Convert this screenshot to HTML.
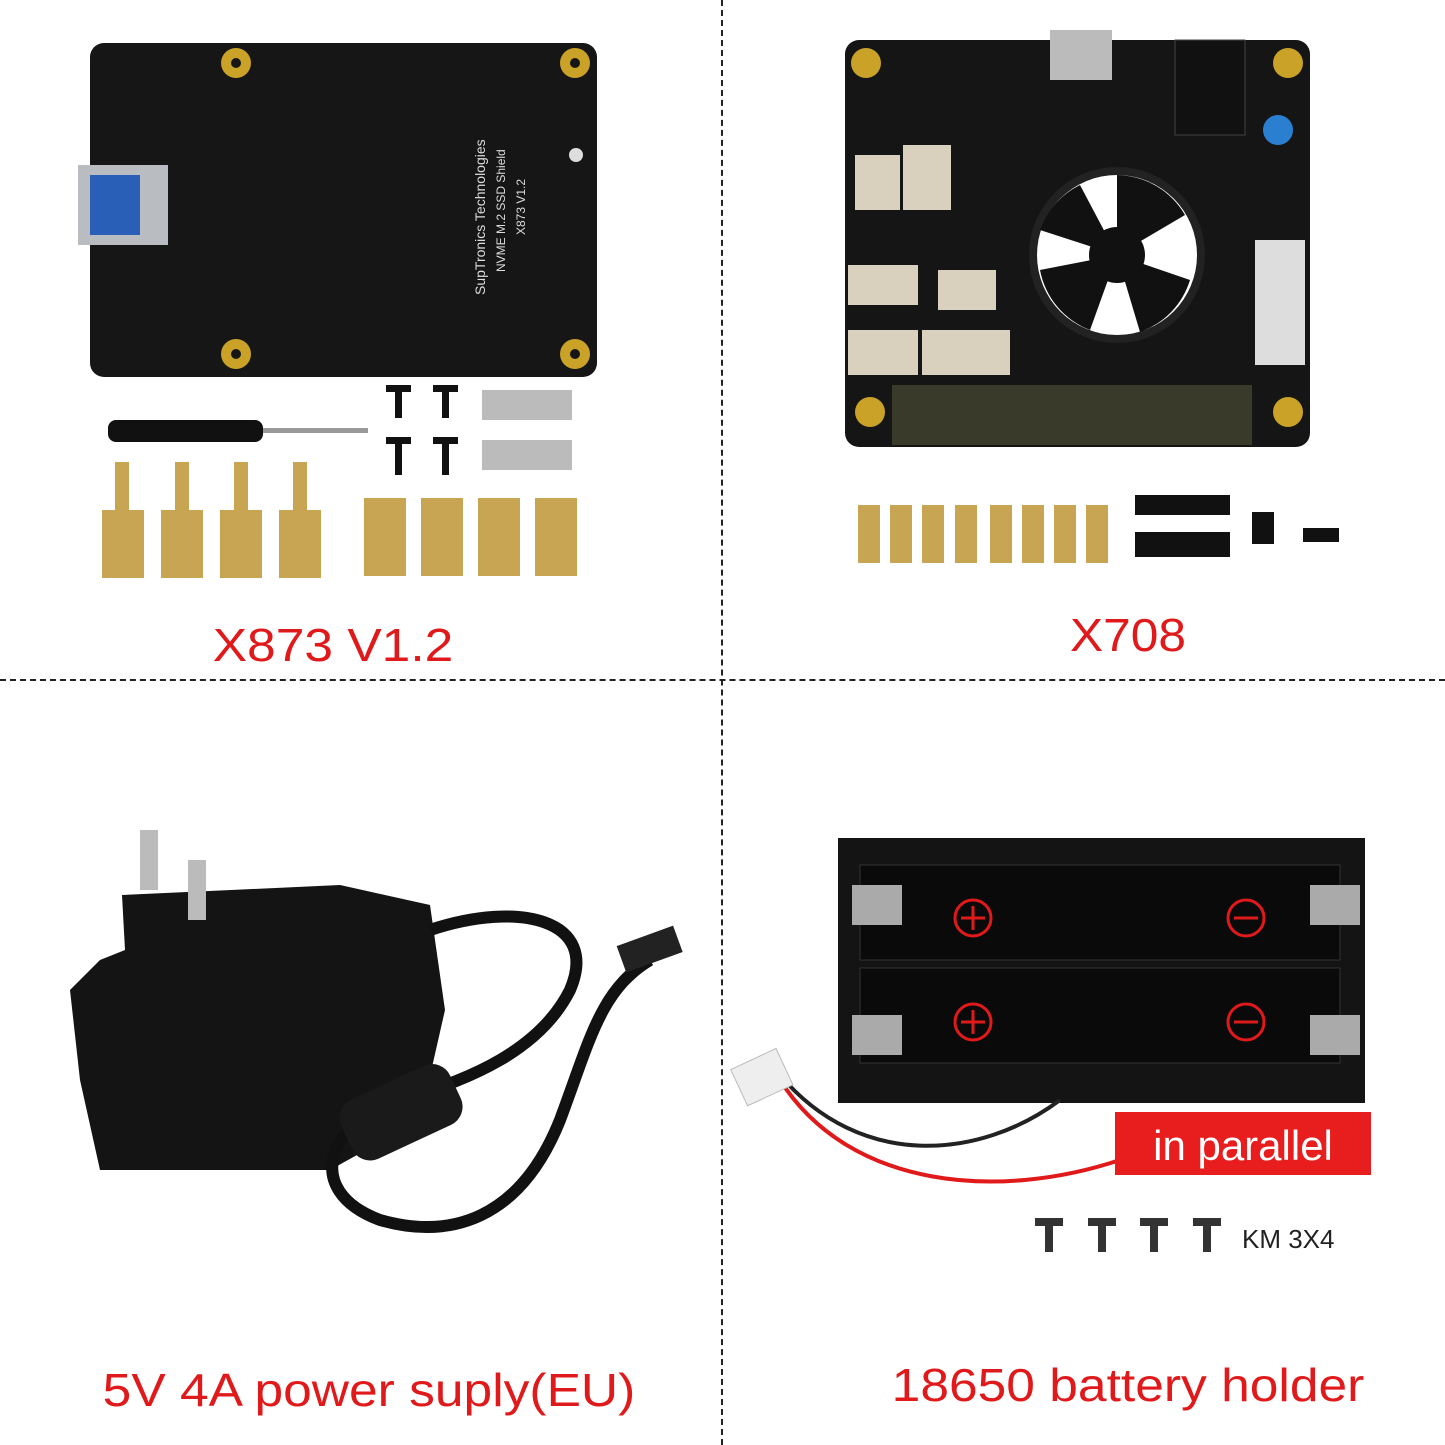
<!DOCTYPE html>
<html><head><meta charset="utf-8"><style>
body{margin:0;width:1445px;height:1445px;background:#fff;position:relative;overflow:hidden;font-family:"Liberation Sans",sans-serif}
.a{position:absolute}
.lbl{position:absolute;color:#e0191b;font-size:46px;text-align:center;white-space:nowrap;transform:scaleX(1.12)}
</style></head><body>
<div class="a" style="left:721px;top:0;height:1445px;border-left:2px dashed #222"></div>
<div class="a" style="left:0;top:679px;width:1445px;border-top:2px dashed #222"></div>

<svg class="a" style="left:0;top:0" width="1445" height="1445">
<rect x="90" y="43" width="507" height="334" rx="14" fill="#161616"/>
<rect x="78" y="165" width="90" height="80" fill="#b9bcc0"/>
<rect x="90" y="175" width="50" height="60" fill="#2a5fb8"/>
<g fill="#c9a227"><circle cx="236" cy="63" r="15"/><circle cx="575" cy="63" r="15"/><circle cx="236" cy="354" r="15"/><circle cx="575" cy="354" r="15"/></g>
<g fill="#161616"><circle cx="236" cy="63" r="5"/><circle cx="575" cy="63" r="5"/><circle cx="236" cy="354" r="5"/><circle cx="575" cy="354" r="5"/></g>
<circle cx="576" cy="155" r="7" fill="#ddd"/>
<text x="0" y="0" transform="translate(485,295) rotate(-90)" fill="#ddd" font-size="14">SupTronics Technologies</text>
<text x="0" y="0" transform="translate(505,272) rotate(-90)" fill="#ddd" font-size="12">NVME M.2 SSD Shield</text>
<text x="0" y="0" transform="translate(525,235) rotate(-90)" fill="#ddd" font-size="12">X873 V1.2</text>
<rect x="108" y="420" width="155" height="22" rx="8" fill="#111"/>
<rect x="263" y="428" width="105" height="5" fill="#999"/>
<g fill="#111"><rect x="386" y="385" width="25" height="7"/><rect x="395" y="390" width="7" height="28"/><rect x="433" y="385" width="25" height="7"/><rect x="442" y="390" width="7" height="28"/><rect x="386" y="437" width="25" height="7"/><rect x="395" y="442" width="7" height="33"/><rect x="433" y="437" width="25" height="7"/><rect x="442" y="442" width="7" height="33"/></g>
<rect x="482" y="390" width="90" height="30" fill="#bbb"/><rect x="482" y="440" width="90" height="30" fill="#bbb"/>
<g fill="#c8a552"><rect x="102" y="510" width="42" height="68"/><rect x="161" y="510" width="42" height="68"/><rect x="220" y="510" width="42" height="68"/><rect x="279" y="510" width="42" height="68"/>
<rect x="115" y="462" width="14" height="50"/><rect x="175" y="462" width="14" height="50"/><rect x="234" y="462" width="14" height="50"/><rect x="293" y="462" width="14" height="50"/>
<rect x="364" y="498" width="42" height="78"/><rect x="421" y="498" width="42" height="78"/><rect x="478" y="498" width="42" height="78"/><rect x="535" y="498" width="42" height="78"/></g>
<rect x="845" y="40" width="465" height="407" rx="14" fill="#151515"/>
<g fill="#c9a227"><circle cx="866" cy="63" r="15"/><circle cx="1288" cy="63" r="15"/><circle cx="870" cy="412" r="15"/><circle cx="1288" cy="412" r="15"/></g>
<rect x="892" y="385" width="360" height="60" fill="#3a3a2a"/>
<circle cx="1117" cy="255" r="88" fill="#222"/><circle cx="1117" cy="255" r="80" fill="#fff"/>
<g fill="#111"><path d="M1117 255 L1117 175 A80 80 0 0 1 1185 215Z"/><path d="M1117 255 L1190 280 A80 80 0 0 1 1140 332Z"/><path d="M1117 255 L1090 330 A80 80 0 0 1 1040 270Z"/><path d="M1117 255 L1040 230 A80 80 0 0 1 1080 185Z"/></g>
<circle cx="1117" cy="255" r="28" fill="#111"/>
<rect x="1050" y="30" width="62" height="50" fill="#bbb"/>
<rect x="1175" y="40" width="70" height="95" fill="#111" stroke="#444"/>
<circle cx="1278" cy="130" r="15" fill="#2b7fd0"/>
<rect x="1255" y="240" width="50" height="125" fill="#ddd"/>
<g fill="#d9d0bd"><rect x="855" y="155" width="45" height="55"/><rect x="903" y="145" width="48" height="65"/><rect x="848" y="265" width="70" height="40"/><rect x="848" y="330" width="70" height="45"/><rect x="938" y="270" width="58" height="40"/><rect x="922" y="330" width="88" height="45"/></g>
<g fill="#c8a552"><rect x="858" y="505" width="22" height="58"/><rect x="890" y="505" width="22" height="58"/><rect x="922" y="505" width="22" height="58"/><rect x="955" y="505" width="22" height="58"/><rect x="990" y="505" width="22" height="58"/><rect x="1022" y="505" width="22" height="58"/><rect x="1054" y="505" width="22" height="58"/><rect x="1086" y="505" width="22" height="58"/></g>
<g fill="#111"><rect x="1135" y="495" width="95" height="20"/><rect x="1135" y="532" width="95" height="25"/><rect x="1252" y="512" width="22" height="32"/><rect x="1303" y="528" width="36" height="14"/></g>
<path d="M122 895 L340 885 L430 905 L445 1010 L420 1120 L330 1170 L100 1170 L80 1080 L70 990 L100 960 L125 950Z" fill="#141414"/>
<rect x="140" y="830" width="18" height="60" fill="#bbb"/><rect x="188" y="860" width="18" height="60" fill="#bbb"/>
<path d="M430 930 C520 900 600 920 570 990 C540 1050 470 1080 400 1100 C330 1120 300 1190 380 1220 C450 1240 520 1220 560 1120 C590 1040 600 990 650 960" fill="none" stroke="#111" stroke-width="12"/>
<rect x="620" y="935" width="60" height="28" fill="#222" transform="rotate(-20 650 950)"/>
<rect x="340" y="1080" width="120" height="65" rx="20" fill="#1a1a1a" transform="rotate(-25 400 1110)"/>
<rect x="838" y="838" width="527" height="265" fill="#141414"/>
<rect x="860" y="865" width="480" height="95" fill="#0a0a0a" stroke="#333"/><rect x="860" y="968" width="480" height="95" fill="#0a0a0a" stroke="#333"/>
<g fill="#aaa"><rect x="852" y="885" width="50" height="40"/><rect x="1310" y="885" width="50" height="40"/><rect x="852" y="1015" width="50" height="40"/><rect x="1310" y="1015" width="50" height="40"/></g>
<g fill="none" stroke="#e0191b" stroke-width="3"><circle cx="973" cy="918" r="18"/><circle cx="1246" cy="918" r="18"/><circle cx="973" cy="1022" r="18"/><circle cx="1246" cy="1022" r="18"/>
<path d="M961 918H985M973 906V930M1234 918H1258M961 1022H985M973 1010V1034M1234 1022H1258"/></g>
<path d="M780 1080 C850 1190 1000 1200 1120 1160" fill="none" stroke="#e0191b" stroke-width="4"/>
<path d="M780 1075 C860 1170 980 1160 1060 1100" fill="none" stroke="#222" stroke-width="4"/>
<rect x="737" y="1058" width="50" height="40" fill="#eee" stroke="#bbb" transform="rotate(-25 760 1078)"/>
<rect x="1115" y="1112" width="256" height="63" fill="#e81e1e"/>
<text x="1243" y="1160" fill="#fff" font-size="42" text-anchor="middle">in parallel</text>
<g fill="#333"><rect x="1035" y="1218" width="28" height="8"/><rect x="1045" y="1224" width="8" height="28"/><rect x="1088" y="1218" width="28" height="8"/><rect x="1098" y="1224" width="8" height="28"/><rect x="1140" y="1218" width="28" height="8"/><rect x="1150" y="1224" width="8" height="28"/><rect x="1193" y="1218" width="28" height="8"/><rect x="1203" y="1224" width="8" height="28"/></g>
<text x="1242" y="1248" fill="#222" font-size="26">KM 3X4</text>
</svg>

<div class="lbl" style="left:133px;top:618px;width:400px">X873 V1.2</div>
<div class="lbl" style="left:928px;top:608px;width:400px;transform:scaleX(1.08)">X708</div>
<div class="lbl" style="left:69px;top:1363px;width:600px">5V 4A power suply(EU)</div>
<div class="lbl" style="left:828px;top:1358px;width:600px">18650 battery holder</div>
</body></html>
